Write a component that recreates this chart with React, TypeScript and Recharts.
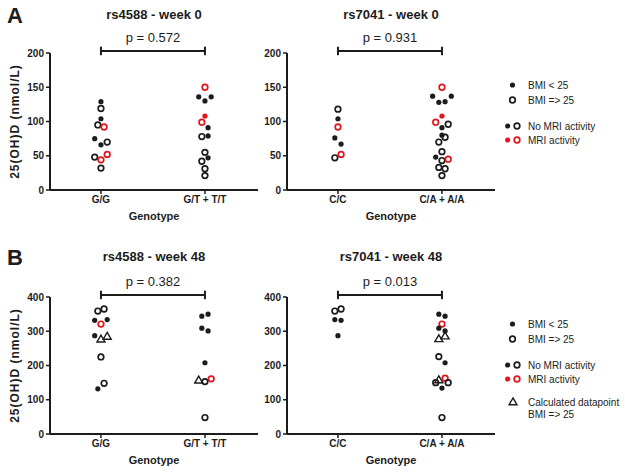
import React from 'react';
import { ReferenceLine, Scatter, ScatterChart, XAxis, YAxis } from 'recharts';

const RED = '#e3141b';
const INK = '#1c1c1c';
const FONT = 'Arial, "Liberation Sans", Helvetica, sans-serif';
const SLOT = 0.03; // one swarm column, in category units

const genotypesRs4588 = ['G/G', 'G/T + T/T'];
const genotypesRs7041 = ['C/C', 'C/A + A/A'];
const ticksWeek0 = [0, 50, 100, 150, 200];
const ticksWeek48 = [0, 100, 200, 300, 400];

// kinds: f = BMI < 25, o = BMI => 25, t = calculated datapoint ; mri: 1 = MRI activity
// rs4588 - week 0
const w0GGValues = [129, 119, 104, 95, 92, 75, 66, 70, 48, 44, 52, 32];
const w0GGKinds = ['f', 'o', 'f', 'o', 'o', 'f', 'f', 'o', 'o', 'o', 'o', 'o'];
const w0GGMri = [0, 0, 0, 0, 1, 0, 0, 0, 0, 1, 1, 0];
const w0GGSlots = [0, 0, 0, -1, 1, -2, 0, 2, -2, 0, 2, 0];

const w0GTValues = [150, 136, 136, 130, 108, 99, 91, 78, 79, 55, 42, 47, 31, 21];
const w0GTKinds = ['o', 'f', 'f', 'f', 'f', 'o', 'f', 'o', 'f', 'o', 'o', 'f', 'o', 'o'];
const w0GTMri = [1, 0, 0, 0, 1, 1, 0, 0, 0, 0, 0, 0, 0, 0];
const w0GTSlots = [0, -2, 2, 0, 0, -1, 1, -1, 1, 0, -1, 1, 0, 0];

// rs7041 - week 0
const w0CCValues = [118, 104, 92, 76, 67, 47, 52];
const w0CCKinds = ['o', 'f', 'o', 'f', 'f', 'o', 'o'];
const w0CCMri = [0, 0, 1, 0, 0, 0, 1];
const w0CCSlots = [0, 0, 0, -1, 1, -1, 1];

const w0CAValues = [150, 137, 137, 128, 129, 108, 99, 96, 91, 80, 77, 70, 56, 48, 43, 45, 33, 31, 21];
const w0CAKinds = ['o', 'f', 'f', 'f', 'f', 'f', 'o', 'o', 'f', 'f', 'o', 'o', 'o', 'f', 'o', 'o', 'o', 'o', 'o'];
const w0CAMri = [1, 0, 0, 0, 0, 1, 1, 0, 0, 0, 0, 0, 0, 0, 0, 1, 0, 0, 0];
const w0CASlots = [0, -3, 3, -1, 1, 0, -2, 2, 0, 0, 1, -1, 0, -2, 0, 2, -1, 1, 0];

// rs4588 - week 48
const w48GGValues = [359, 365, 332, 334, 321, 287, 277, 285, 225, 132, 148];
const w48GGKinds = ['o', 'o', 'f', 'f', 'o', 'f', 't', 't', 'o', 'f', 'o'];
const w48GGMri = [0, 0, 0, 0, 1, 0, 0, 0, 0, 0, 0];
const w48GGSlots = [-1, 1, -2, 2, 0, -2, 0, 2, 0, -1, 1];

const w48GTValues = [344, 350, 309, 301, 208, 157, 153, 161, 48];
const w48GTKinds = ['f', 'f', 'f', 'f', 'f', 't', 'o', 'o', 'o'];
const w48GTMri = [0, 0, 0, 0, 0, 0, 0, 1, 0];
const w48GTSlots = [-1, 1, -1, 1, 0, -2, 0, 2, 0];

// rs7041 - week 48
const w48CCValues = [359, 365, 334, 332, 287];
const w48CCKinds = ['o', 'o', 'f', 'f', 'f'];
const w48CCMri = [0, 0, 0, 0, 0];
const w48CCSlots = [-1, 1, -1, 1, 0];

const w48CAValues = [350, 344, 321, 309, 301, 278, 286, 226, 208, 150, 158, 163, 150, 134, 48];
const w48CAKinds = ['f', 'f', 'o', 'f', 'f', 't', 't', 'o', 'f', 'o', 't', 'o', 'o', 'f', 'o'];
const w48CAMri = [0, 0, 1, 0, 0, 0, 0, 0, 0, 0, 0, 1, 0, 0, 0];
const w48CASlots = [-1, 1, 0, -1, 1, -1, 1, -1, 1, -2, -1, 1, 2, 0, 0];

interface Point {
  x: number;
  y: number;
  kind: string;
  mri: number;
}

function group(pos: number, values: number[], kinds: string[], mri: number[], slots: number[]): Point[] {
  return values.map((v, i) => ({ x: pos + slots[i] * SLOT, y: v, kind: kinds[i], mri: mri[i] }));
}

function Glyph({ cx, cy, kind, color }: { cx: number; cy: number; kind: string; color: string }) {
  if (kind === 'f') return <circle cx={cx} cy={cy} r={2.6} fill={color} />;
  if (kind === 't') {
    const pts = `${cx},${cy - 4} ${cx - 4},${cy + 2.8} ${cx + 4},${cy + 2.8}`;
    return <polygon points={pts} fill="none" stroke={color} strokeWidth={1.4} strokeLinejoin="miter" />;
  }
  return <circle cx={cx} cy={cy} r={2.8} fill="none" stroke={color} strokeWidth={1.7} />;
}

function renderMarker(props: any) {
  const { cx, cy, payload } = props;
  return <Glyph cx={cx} cy={cy} kind={payload.kind} color={payload.mri ? RED : INK} />;
}

interface PanelProps {
  left: number;
  top: number;
  categories: string[];
  yMax: number;
  ticks: number[];
  pValue: string;
  data: Point[];
  yLabel?: string;
}

function Panel({ left, top, categories, yMax, ticks, pValue, data, yLabel }: PanelProps) {
  const level = yMax * 1.015;
  const cap = yMax * 0.031;
  const tickStyle = { fontSize: 10, fontWeight: 'bold', fill: INK, fontFamily: FONT };
  return (
    <div style={{ position: 'absolute', left, top }}>
      <ScatterChart width={262} height={224} margin={{ top: 53, right: 4, bottom: 0, left: 0 }}>
        <XAxis
          type="number"
          dataKey="x"
          domain={[0.51, 2.51]}
          ticks={[1, 2]}
          tickFormatter={(v: number) => categories[v - 1]}
          height={34}
          tickSize={4}
          tickMargin={2}
          axisLine={{ stroke: INK, strokeWidth: 2 }}
          tickLine={{ stroke: INK, strokeWidth: 1.5 }}
          tick={tickStyle}
          label={{ value: 'Genotype', position: 'insideBottom', offset: 4, style: { fontSize: 11, fontWeight: 'bold', fill: INK, fontFamily: FONT } }}
        />
        <YAxis
          type="number"
          dataKey="y"
          domain={[0, yMax]}
          ticks={ticks}
          width={50}
          tickSize={4}
          tickMargin={2}
          axisLine={{ stroke: INK, strokeWidth: 2 }}
          tickLine={{ stroke: INK, strokeWidth: 1.5 }}
          tick={tickStyle}
          label={
            yLabel
              ? {
                  value: yLabel,
                  angle: -90,
                  position: 'insideLeft',
                  offset: 15,
                  style: { textAnchor: 'middle', fontSize: 12, fontWeight: 'bold', fill: INK, fontFamily: FONT, letterSpacing: 1 },
                }
              : undefined
          }
        />
        <ReferenceLine
          segment={[{ x: 1, y: level }, { x: 2, y: level }]}
          stroke={INK}
          strokeWidth={2}
          ifOverflow="visible"
          label={{ value: pValue, position: 'top', offset: 9, style: { fontSize: 13, fill: INK, fontFamily: FONT } }}
        />
        <ReferenceLine segment={[{ x: 1, y: level - cap }, { x: 1, y: level + cap }]} stroke={INK} strokeWidth={2} ifOverflow="visible" />
        <ReferenceLine segment={[{ x: 2, y: level - cap }, { x: 2, y: level + cap }]} stroke={INK} strokeWidth={2} ifOverflow="visible" />
        <Scatter data={data} shape={renderMarker} isAnimationActive={false} />
      </ScatterChart>
    </div>
  );
}

function Title({ x, y, text }: { x: number; y: number; text: string }) {
  return (
    <div
      style={{
        position: 'absolute',
        left: x - 100,
        top: y,
        width: 200,
        textAlign: 'center',
        fontSize: 13,
        lineHeight: '13px',
        fontWeight: 'bold',
        color: INK,
        fontFamily: FONT,
      }}
    >
      {text}
    </div>
  );
}

function Letter({ y, text }: { y: number; text: string }) {
  return (
    <div style={{ position: 'absolute', left: 7, top: y, fontSize: 22, lineHeight: '22px', fontWeight: 'bold', color: INK, fontFamily: FONT }}>
      {text}
    </div>
  );
}

function Key({ top, withCalculated }: { top: number; withCalculated?: boolean }) {
  const text = { fontSize: 10, fill: INK, fontFamily: FONT };
  return (
    <svg style={{ position: 'absolute', left: 495, top }} width={130} height={100}>
      <Glyph cx={17.5} cy={5} kind="f" color={INK} />
      <text x={33} y={8.6} {...text}>BMI &lt; 25</text>
      <Glyph cx={17.5} cy={20} kind="o" color={INK} />
      <text x={33} y={23.6} {...text}>BMI =&gt; 25</text>
      <Glyph cx={12.7} cy={46} kind="f" color={INK} />
      <Glyph cx={22} cy={46} kind="o" color={INK} />
      <text x={33} y={49.6} {...text}>No MRI activity</text>
      <Glyph cx={12.7} cy={60} kind="f" color={RED} />
      <Glyph cx={22} cy={60} kind="o" color={RED} />
      <text x={33} y={63.6} {...text}>MRI activity</text>
      {withCalculated && (
        <>
          <Glyph cx={18} cy={83} kind="t" color={INK} />
          <text x={33} y={86.6} {...text}>Calculated datapoint</text>
          <text x={33} y={99} {...text}>BMI =&gt; 25</text>
        </>
      )}
    </svg>
  );
}

export default function App() {
  const w0Left = [...group(1, w0GGValues, w0GGKinds, w0GGMri, w0GGSlots), ...group(2, w0GTValues, w0GTKinds, w0GTMri, w0GTSlots)];
  const w0Right = [...group(1, w0CCValues, w0CCKinds, w0CCMri, w0CCSlots), ...group(2, w0CAValues, w0CAKinds, w0CAMri, w0CASlots)];
  const w48Left = [...group(1, w48GGValues, w48GGKinds, w48GGMri, w48GGSlots), ...group(2, w48GTValues, w48GTKinds, w48GTMri, w48GTSlots)];
  const w48Right = [...group(1, w48CCValues, w48CCKinds, w48CCMri, w48CCSlots), ...group(2, w48CAValues, w48CAKinds, w48CAMri, w48CASlots)];

  return (
    <div style={{ position: 'absolute', left: 0, top: 0, width: 625, height: 472, background: '#fff', overflow: 'hidden', fontFamily: FONT }}>
      <Letter y={5} text="A" />
      <Letter y={247} text="B" />
      <Title x={154} y={8} text="rs4588 - week 0" />
      <Title x={391} y={8} text="rs7041 - week 0" />
      <Title x={154} y={250} text="rs4588 - week 48" />
      <Title x={391} y={250} text="rs7041 - week 48" />
      <Panel left={0} top={0} categories={genotypesRs4588} yMax={200} ticks={ticksWeek0} pValue="p = 0.572" data={w0Left} yLabel="25(OH)D (nmol/L)" />
      <Panel left={237} top={0} categories={genotypesRs7041} yMax={200} ticks={ticksWeek0} pValue="p = 0.931" data={w0Right} />
      <Panel left={0} top={244} categories={genotypesRs4588} yMax={400} ticks={ticksWeek48} pValue="p = 0.382" data={w48Left} yLabel="25(OH)D (nmol/L)" />
      <Panel left={237} top={244} categories={genotypesRs7041} yMax={400} ticks={ticksWeek48} pValue="p = 0.013" data={w48Right} />
      <Key top={80} />
      <Key top={319} withCalculated />
    </div>
  );
}
